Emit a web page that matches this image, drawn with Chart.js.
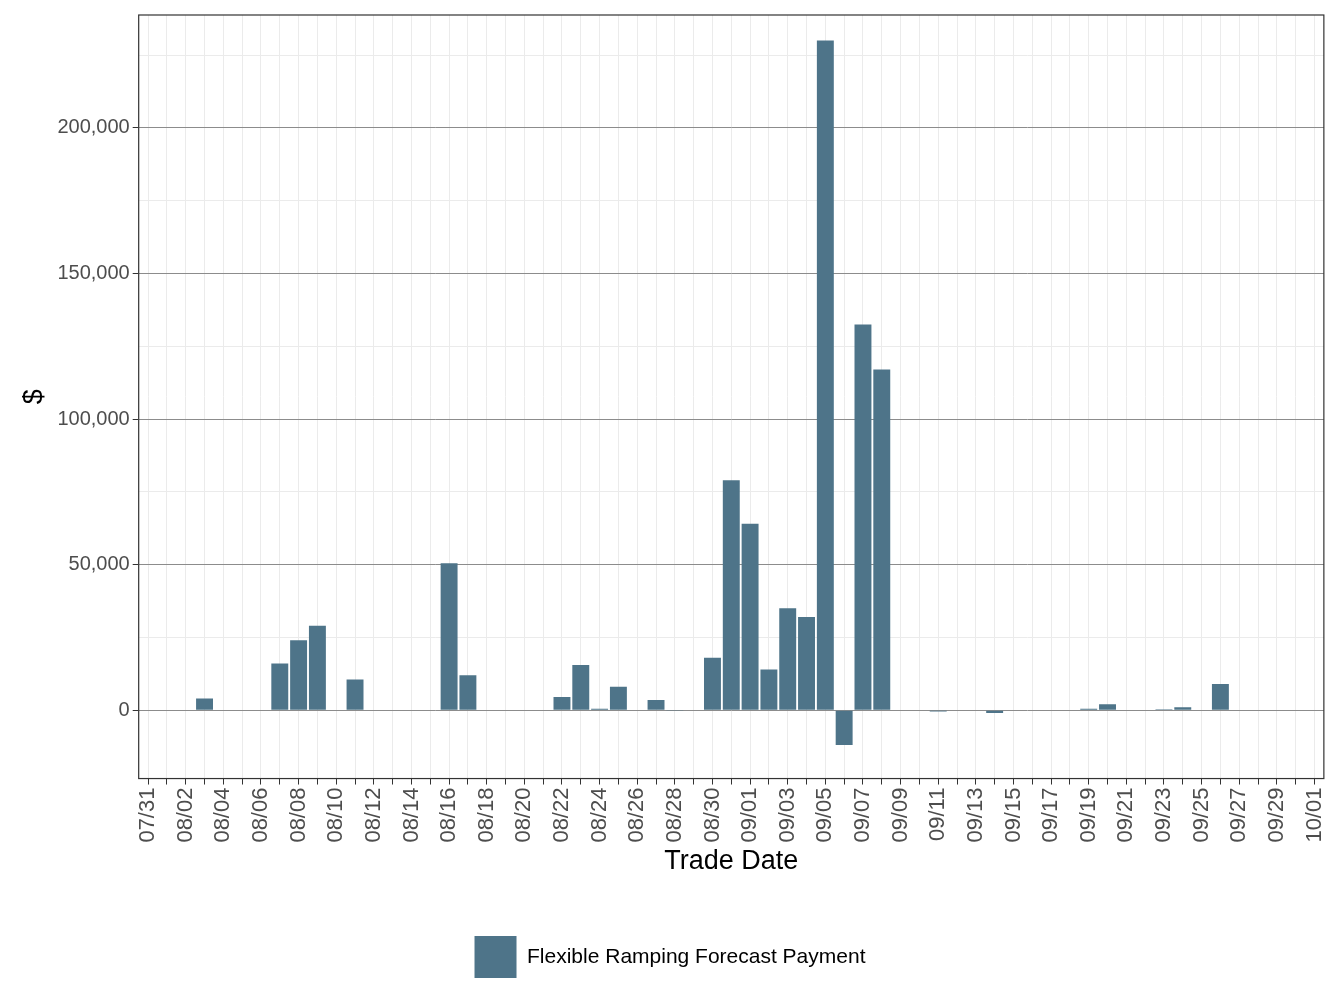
<!DOCTYPE html>
<html>
<head>
<meta charset="utf-8">
<script src="https://cdn.jsdelivr.net/npm/chart.js@4"></script>
<style>
  body { margin: 0; background: #fff; }
  #wrap { width: 1344px; height: 1008px; }
</style>
</head>
<body>
<div id="wrap"><canvas id="payment-chart" width="1344" height="1008"></canvas></div>
<script>
// trade dates 07/31 .. 10/01
const tradeDates = [];
for (let d = new Date(2023, 6, 31); d <= new Date(2023, 9, 1); d.setDate(d.getDate() + 1)) {
  tradeDates.push(String(d.getMonth() + 1).padStart(2, '0') + '/' + String(d.getDate()).padStart(2, '0'));
}

// payments ($)
const paymentDates = ['08/03', '08/07', '08/08', '08/09', '08/11', '08/16', '08/17', '08/22', '08/23', '08/24',
  '08/25', '08/27', '08/28', '08/30', '08/31', '09/01', '09/02', '09/03', '09/04', '09/05',
  '09/06', '09/07', '09/08', '09/11', '09/14', '09/19', '09/20', '09/23', '09/24', '09/26'];
const paymentValues = [4000, 16000, 24000, 29000, 10500, 50500, 12000, 4500, 15500, 500,
  8000, 3500, -300, 18000, 79000, 64000, 14000, 35000, 32000, 230000,
  -12000, 132500, 117000, -500, -1000, 500, 2000, 300, 1000, 9000];

const seriesData = tradeDates.map(d => {
  const i = paymentDates.indexOf(d);
  return i >= 0 ? paymentValues[i] : null;
});

const frame = {
  id: 'frame',
  afterDraw(chart) {
    const { ctx, chartArea: a } = chart;
    ctx.save();
    ctx.strokeStyle = '#333333';
    ctx.lineWidth = 1.2;
    ctx.strokeRect(a.left, a.top, a.right - a.left, a.bottom - a.top);
    ctx.restore();
  },
};

new Chart(document.getElementById('payment-chart'), {
  type: 'bar',
  data: {
    labels: tradeDates,
    datasets: [{
      label: 'Flexible Ramping Forecast Payment',
      data: seriesData,
      backgroundColor: '#4e7489',
      barPercentage: 0.9,
      categoryPercentage: 1,
    }],
  },
  options: {
    responsive: false,
    animation: false,
    layout: { padding: { top: 14, right: 18, left: 14, bottom: 20 } },
    plugins: {
      legend: {
        position: 'bottom',
        labels: {
          boxWidth: 42, boxHeight: 42, padding: 18,
          color: '#000', font: { size: 21, family: 'Liberation Sans' },
        },
      },
      tooltip: { enabled: false },
    },
    scales: {
      x: {
        offset: true,
        grid: {
          color: '#ebebeb',
          offset: false,
          tickLength: 6,
          tickColor: '#333',
        },
        ticks: {
          autoSkip: false,
          maxRotation: 90, minRotation: 90,
          color: '#4d4d4d',
          font: { size: 22, family: 'Liberation Sans' },
          callback: (v, i) => (i % 2 === 0 ? tradeDates[i] : ''),
        },
        title: {
          display: true, text: 'Trade Date', color: '#000',
          font: { size: 27, family: 'Liberation Sans' }, padding: { top: 0, bottom: 40 },
        },
      },
      y: {
        min: -23500,
        max: 238800,
        grid: {
          color: ctx => (ctx.tick && ctx.tick.value % 50000 === 0 ? '#8c8c8c' : '#ebebeb'),
          tickLength: 6,
          tickColor: ctx => (ctx.tick && ctx.tick.value % 50000 === 0 ? '#333' : 'rgba(0,0,0,0)'),
        },
        afterBuildTicks: axis => {
          axis.ticks = [];
          for (let v = -25000; v <= 225000; v += 25000) {
            if (v >= axis.min) axis.ticks.push({ value: v });
          }
        },
        ticks: {
          color: '#4d4d4d',
          font: { size: 20, family: 'Liberation Sans' },
          callback: v => (v % 50000 === 0 ? v.toLocaleString('en-US') : ''),
        },
        title: {
          display: true, text: '$', color: '#000',
          font: { size: 27, family: 'Liberation Sans' },
        },
      },
    },
  },
  plugins: [frame],
});
</script>
</body>
</html>
